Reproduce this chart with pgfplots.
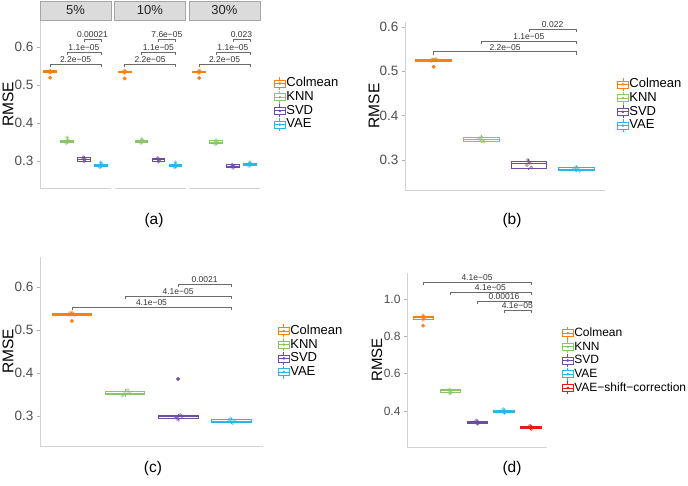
\documentclass[border=0pt]{standalone}
\usepackage{fontspec}
\setmainfont{Liberation Sans}
\usepackage{pgfplots}
\pgfplotsset{compat=1.18}

\definecolor{cOr}{HTML}{FF7F0E}
\definecolor{cGr}{HTML}{8CC46A}
\definecolor{cPu}{HTML}{6E4C9E}
\definecolor{cCy}{HTML}{29B6E8}
\definecolor{cRe}{HTML}{E41A1C}
\definecolor{txtg}{HTML}{4D4D4D}
\definecolor{brg}{HTML}{6B6B6B}

% box: position, lower whisker, lower quartile, median, upper quartile, upper whisker, colour
\newcommand{\bx}[7]{%
  \pgfmathsetmacro{\xl}{#1-0.375}\pgfmathsetmacro{\xr}{#1+0.375}%
  \edef\tmp{%
    \noexpand\addplot[draw=#7, line width=0.8pt, fill=white, forget plot, no marks] coordinates {(\xl,#3)(\xr,#3)(\xr,#5)(\xl,#5)} -- cycle;
    \noexpand\addplot[draw=#7, line width=0.8pt, forget plot, no marks] coordinates {(\xl,#4)(\xr,#4)};
    \noexpand\addplot[draw=#7, line width=0.8pt, forget plot, no marks] coordinates {(#1,#2)(#1,#3)};
    \noexpand\addplot[draw=#7, line width=0.8pt, forget plot, no marks] coordinates {(#1,#5)(#1,#6)};
  }\tmp}
\newcommand{\pts}[2]{\addplot[only marks, mark=*, mark size=1.7pt, color=#1, opacity=0.45, forget plot] coordinates {#2};}
\newcommand{\outl}[3]{\addplot[only marks, mark=*, mark size=1.7pt, color=#1, forget plot] coordinates {(#2,#3)};}
\newcommand{\brk}[6]{\addplot[draw=brg, line width=0.6pt, forget plot, no marks] coordinates {(#1,#4)(#1,#3)(#2,#3)(#2,#4)};
  \node[font=\fontsize{8.5}{9}\selectfont, text=black!80, anchor=base, inner sep=0pt, yshift=1.5pt] at (axis cs:#5,#3) {#6};}
\newcommand{\lgbox}[1]{\draw[#1, line width=0.7pt] (0pt,-3.5pt) rectangle (11pt,3.5pt) (0pt,0pt)--(11pt,0pt) (5.5pt,-6.5pt)--(5.5pt,-3.5pt) (5.5pt,3.5pt)--(5.5pt,6.5pt); \fill[#1] (5.5pt,0pt) circle (1.1pt);}
\newcommand{\lgent}[2]{\addlegendimage{legend image code/.code={\lgbox{#1}}}\addlegendentry{#2}}

\pgfplotsset{
  base/.style={scale only axis, clip=false, enlargelimits=false,
    axis x line*=bottom, axis y line*=left,
    axis line style={draw=gray!35, line width=0.8pt, -},
    xtick=\empty, tick align=outside, major tick length=3pt,
    ytick style={draw=gray!60, line width=0.6pt},
    yticklabel style={font=\fontsize{13.5}{14}\selectfont, text=txtg},
    ylabel={RMSE}},
  ylab/.style 2 args={every axis y label/.style={at={([xshift=-#1]axis description cs:0,0.5)}, rotate=90, anchor=center,
    font=\fontsize{#2}{#2}\selectfont, text=black}},
  noy/.style={axis y line=none, ytick=\empty, ylabel={}},
  leg/.style 2 args={legend style={at={#1}, anchor=west, draw=none, fill=none, inner sep=0pt, outer sep=0pt,
    font=\fontsize{#2}{#2}\selectfont, nodes={inner sep=0.7pt, text height=9.4pt, text depth=2.6pt},
    /tikz/every even column/.append style={column sep=0pt}}, legend cell align=left},
}

\begin{document}
\begin{tikzpicture}
\path[use as bounding box] (0pt,0pt) rectangle (688pt,485pt);

% ---------- (a) facets ----------
\begin{axis}[base, ylab={32pt}{15.5}, at={(40pt,297pt)}, anchor=south west, width=71pt, height=167pt,
  xmin=0.4, xmax=4.6, ymin=0.229, ymax=0.668,
  ytick={0.3,0.4,0.5,0.6}, yticklabels={0.3,0.4,0.5,0.6}]
\bx{1}{0.530}{0.532}{0.535}{0.537}{0.540}{cOr}
\bx{2}{0.345}{0.348}{0.352}{0.355}{0.362}{cGr}
\bx{3}{0.298}{0.300}{0.305}{0.310}{0.312}{cPu}
\bx{4}{0.283}{0.285}{0.289}{0.292}{0.298}{cCy}
\pts{cOr}{(0.95,0.536)(1.03,0.534)(1.0,0.538)(0.97,0.532)(1.05,0.535)}
\pts{cGr}{(1.97,0.352)(2.03,0.349)(2.0,0.362)(1.95,0.347)(2.05,0.355)}
\pts{cPu}{(2.97,0.307)(3.03,0.303)(3.0,0.299)(2.95,0.310)(3.05,0.305)}
\pts{cCy}{(3.97,0.290)(4.03,0.286)(4.0,0.297)(3.95,0.283)(4.05,0.292)}
\outl{cOr}{1}{0.519}
\brk{1}{4}{0.555}{0.547}{2.5}{2.2e−05}
\brk{2}{4}{0.587}{0.579}{3}{1.1e−05}
\brk{3}{4}{0.621}{0.613}{3.5}{0.00021}
\end{axis}

\begin{axis}[base, noy, at={(114.5pt,297pt)}, anchor=south west, width=71pt, height=167pt,
  xmin=0.4, xmax=4.6, ymin=0.229, ymax=0.668]
\bx{1}{0.530}{0.532}{0.534}{0.536}{0.539}{cOr}
\bx{2}{0.346}{0.349}{0.352}{0.355}{0.358}{cGr}
\bx{3}{0.298}{0.300}{0.303}{0.306}{0.309}{cPu}
\bx{4}{0.282}{0.285}{0.288}{0.291}{0.297}{cCy}
\pts{cOr}{(0.95,0.535)(1.03,0.533)(1.0,0.538)(0.97,0.531)(1.05,0.536)}
\pts{cGr}{(1.97,0.353)(2.03,0.349)(2.0,0.358)(1.95,0.347)(2.05,0.355)}
\pts{cPu}{(2.97,0.305)(3.03,0.301)(3.0,0.298)(2.95,0.308)(3.05,0.303)}
\pts{cCy}{(3.97,0.289)(4.03,0.285)(4.0,0.297)(3.95,0.283)(4.05,0.291)}
\outl{cOr}{1}{0.517}
\brk{1}{4}{0.555}{0.547}{2.5}{2.2e−05}
\brk{2}{4}{0.587}{0.579}{3}{1.1e−05}
\brk{3}{4}{0.621}{0.613}{3.5}{7.6e−05}
\end{axis}

\begin{axis}[base, noy, at={(189pt,297pt)}, anchor=south west, width=71pt, height=167pt,
  xmin=0.4, xmax=4.6, ymin=0.229, ymax=0.668, leg={(axis description cs:1.197,0.503)}{13}]
\bx{1}{0.530}{0.532}{0.534}{0.536}{0.539}{cOr}
\bx{2}{0.343}{0.346}{0.349}{0.353}{0.356}{cGr}
\bx{3}{0.281}{0.284}{0.287}{0.290}{0.292}{cPu}
\bx{4}{0.287}{0.289}{0.292}{0.294}{0.297}{cCy}
\pts{cOr}{(0.95,0.535)(1.03,0.533)(1.0,0.538)(0.97,0.531)(1.05,0.536)}
\pts{cGr}{(1.97,0.350)(2.03,0.346)(2.0,0.355)(1.95,0.344)(2.05,0.352)}
\pts{cPu}{(2.97,0.288)(3.03,0.285)(3.0,0.282)(2.95,0.290)(3.05,0.287)}
\pts{cCy}{(3.97,0.293)(4.03,0.289)(4.0,0.297)(3.95,0.287)(4.05,0.294)}
\outl{cOr}{1}{0.518}
\brk{1}{4}{0.555}{0.547}{2.5}{2.2e−05}
\brk{2}{4}{0.587}{0.579}{3}{1.1e−05}
\brk{3}{4}{0.621}{0.613}{3.5}{0.023}
\lgent{cOr}{Colmean}
\lgent{cGr}{KNN}
\lgent{cPu}{SVD}
\lgent{cCy}{VAE}
\end{axis}

\foreach \xa/\lab in {40/5\%, 114.5/10\%, 189/30\%}{
  \draw[fill=gray!28, draw=gray!70, line width=0.7pt] (\xa pt,465pt) rectangle ++(71pt,19pt);
  \node[font=\fontsize{13}{13}\selectfont, text=black!85] at ([xshift=35.5pt]\xa pt,474.5pt) {\lab};
}

% ---------- (b) ----------
\begin{axis}[base, ylab={31pt}{15.5}, at={(405pt,295pt)}, anchor=south west, width=200pt, height=168pt,
  xmin=0.4, xmax=4.6, ymin=0.232, ymax=0.611,
  ytick={0.3,0.4,0.5,0.6}, yticklabels={0.3,0.4,0.5,0.6}, leg={(axis description cs:1.06,0.506)}{13}]
\bx{1}{0.520}{0.523}{0.525}{0.527}{0.530}{cOr}
\bx{2}{0.337}{0.342}{0.347}{0.351}{0.355}{cGr}
\bx{3}{0.278}{0.281}{0.291}{0.297}{0.301}{cPu}
\bx{4}{0.272}{0.276}{0.279}{0.283}{0.286}{cCy}
\pts{cOr}{(0.97,0.527)(1.03,0.526)(1.0,0.524)(1.05,0.528)(0.95,0.523)}
\pts{cGr}{(1.95,0.348)(2.0,0.352)(2.03,0.344)(2.06,0.341)(1.98,0.346)}
\pts{cPu}{(2.98,0.300)(3.02,0.293)(2.96,0.288)(3.05,0.283)(3.0,0.296)}
\pts{cCy}{(3.95,0.281)(4.0,0.284)(4.04,0.279)(4.07,0.275)(3.98,0.277)}
\outl{cOr}{1}{0.510}
\brk{1}{4}{0.544}{0.537}{2.5}{2.2e−05}
\brk{2}{4}{0.568}{0.561}{3}{1.1e−05}
\brk{3}{4}{0.595}{0.588}{3.5}{0.022}
\lgent{cOr}{Colmean}
\lgent{cGr}{KNN}
\lgent{cPu}{SVD}
\lgent{cCy}{VAE}
\end{axis}

% ---------- (c) ----------
\begin{axis}[base, ylab={32pt}{15.5}, at={(40pt,39pt)}, anchor=south west, width=223pt, height=189pt,
  xmin=0.4, xmax=4.6, ymin=0.230, ymax=0.670,
  ytick={0.3,0.4,0.5,0.6}, yticklabels={0.3,0.4,0.5,0.6}, leg={(axis description cs:1.067,0.5)}{13}]
\bx{1}{0.533}{0.535}{0.537}{0.539}{0.541}{cOr}
\bx{2}{0.345}{0.349}{0.352}{0.358}{0.362}{cGr}
\bx{3}{0.290}{0.295}{0.298}{0.301}{0.304}{cPu}
\bx{4}{0.281}{0.284}{0.288}{0.292}{0.295}{cCy}
\pts{cOr}{(0.96,0.540)(1.02,0.538)(1.05,0.535)(0.99,0.536)(1.0,0.541)}
\pts{cGr}{(1.95,0.347)(2.0,0.352)(2.05,0.361)(2.08,0.355)(1.97,0.350)}
\pts{cPu}{(2.96,0.296)(3.0,0.291)(3.04,0.302)(3.08,0.299)(2.98,0.297)}
\pts{cCy}{(3.96,0.291)(4.0,0.286)(4.03,0.283)(4.06,0.289)(3.99,0.294)}
\outl{cOr}{1}{0.521}
\outl{cPu}{3}{0.386}
\brk{1}{4}{0.553}{0.546}{2.5}{4.1e−05}
\brk{2}{4}{0.579}{0.572}{3}{4.1e−05}
\brk{3}{4}{0.607}{0.600}{3.5}{0.0021}
\lgent{cOr}{Colmean}
\lgent{cGr}{KNN}
\lgent{cPu}{SVD}
\lgent{cCy}{VAE}
\end{axis}

% ---------- (d) ----------
\begin{axis}[base, ylab={30pt}{15}, at={(407pt,38pt)}, anchor=south west, width=140pt, height=174pt,
  xmin=0.4, xmax=5.6, ymin=0.207, ymax=1.139,
  yticklabel style={font=\fontsize{12}{12}\selectfont},
  ytick={0.4,0.6,0.8,1.0}, yticklabels={0.4,0.6,0.8,1.0}, leg={(axis description cs:1.107,0.497)}{12},
  legend style={nodes={text height=9pt, text depth=2.6pt, inner sep=0.6pt}}]
\bx{1}{0.885}{0.893}{0.899}{0.905}{0.912}{cOr}
\bx{2}{0.492}{0.500}{0.508}{0.515}{0.520}{cGr}
\bx{3}{0.327}{0.333}{0.339}{0.345}{0.352}{cPu}
\bx{4}{0.383}{0.390}{0.397}{0.405}{0.412}{cCy}
\bx{5}{0.298}{0.305}{0.310}{0.316}{0.323}{cRe}
\pts{cOr}{(0.97,0.905)(1.0,0.912)(1.03,0.895)(0.99,0.888)(1.02,0.900)}
\pts{cGr}{(1.97,0.515)(2.0,0.505)(2.03,0.497)(1.99,0.492)(2.02,0.511)}
\pts{cPu}{(2.97,0.350)(3.0,0.340)(3.03,0.331)(2.99,0.336)(3.02,0.344)}
\pts{cCy}{(3.97,0.410)(4.0,0.400)(4.03,0.388)(3.99,0.395)(4.02,0.404)}
\pts{cRe}{(4.97,0.322)(5.0,0.312)(5.03,0.303)(4.99,0.307)(5.02,0.316)}
\outl{cOr}{1}{0.857}
\brk{1}{5}{1.090}{1.074}{3}{4.1e−05}
\brk{2}{5}{1.037}{1.021}{3.5}{4.1e−05}
\brk{3}{5}{0.989}{0.973}{4}{0.00016}
\brk{4}{5}{0.941}{0.925}{4.5}{4.1e−05}
\lgent{cOr}{Colmean}
\lgent{cGr}{KNN}
\lgent{cPu}{SVD}
\lgent{cCy}{VAE}
\lgent{cRe}{VAE−shift−correction}
\end{axis}

\node[font=\fontsize{15.5}{16}\selectfont] at (154pt,265pt) {(a)};
\node[font=\fontsize{15.5}{16}\selectfont] at (512pt,265pt) {(b)};
\node[font=\fontsize{15.5}{16}\selectfont] at (153pt,17pt) {(c)};
\node[font=\fontsize{15.5}{16}\selectfont] at (512pt,17pt) {(d)};
\end{tikzpicture}
\end{document}
